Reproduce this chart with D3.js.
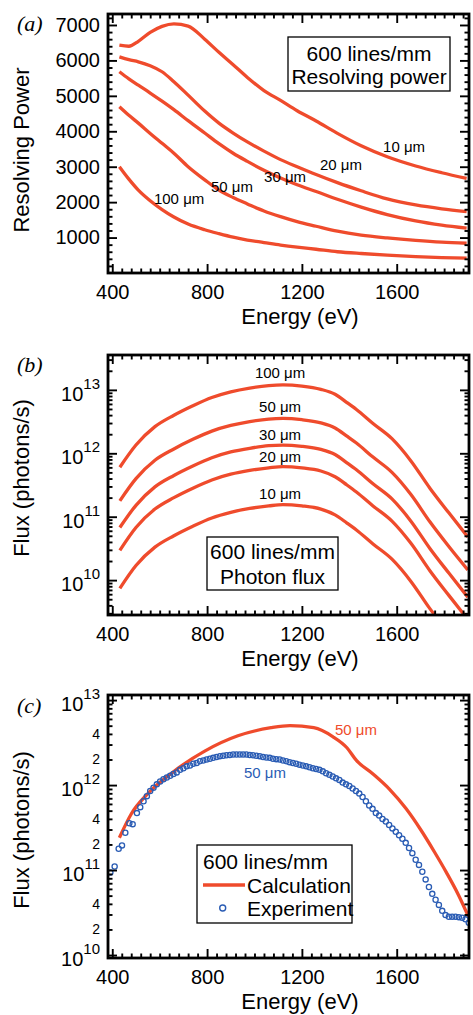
<!DOCTYPE html>
<html><head><meta charset="utf-8">
<script src="https://cdn.jsdelivr.net/npm/d3@7"></script>
<style>
body{margin:0;background:#fff}
svg text{font-family:"Liberation Sans",Arial,Helvetica,sans-serif;fill:#000}
</style>
</head><body><script>
// ---------- DATA ----------
const energyTicks = [400, 800, 1200, 1600];
const rpTicks = [1000, 2000, 3000, 4000, 5000, 6000, 7000];
const fluxDecadeExps = [10, 11, 12, 13];
const fluxSubLabels = [2e10, 4e10, 2e11, 4e11, 2e12, 4e12];

// (a) resolving power
const energyA = [430,470,510,560,610,660,720,790,850,910,970,1040,1110,1180,1260,1350,1450,1560,1680,1790,1895];
const rp10um  = [6430,6400,6540,6790,6960,7030,6970,6600,6230,5880,5520,5150,4870,4580,4290,3940,3590,3280,3020,2830,2670];
const rp20um  = [6100,6020,5960,5850,5680,5400,5020,4570,4230,3950,3700,3440,3200,3000,2780,2550,2320,2090,1920,1810,1730];
const rp30um  = [5680,5480,5300,5080,4850,4610,4300,3950,3650,3380,3150,2900,2680,2490,2300,2080,1860,1650,1470,1350,1265];
const rp50um  = [4690,4450,4230,3940,3660,3380,3000,2630,2340,2130,1950,1750,1590,1450,1320,1180,1070,990,920,870,840];
const rp100um = [3000,2650,2340,2040,1790,1580,1380,1220,1110,1010,930,860,790,730,670,600,550,505,465,435,418];

// (b) photon flux
const energyB = [432,500,580,660,740,820,900,980,1060,1120,1200,1280,1340,1390,1430,1500,1580,1660,1740,1820,1900];
const flux100um = [6.03e11,1.35e12,2.63e12,3.98e12,5.62e12,7.59e12,9.33e12,1.07e13,1.17e13,1.20e13,1.15e13,1.02e13,8.51e12,6.31e12,4.90e12,2.95e12,1.70e12,7.59e11,2.82e11,1.15e11,4.79e10];
const flux50um  = [1.78e11,3.98e11,7.76e11,1.17e12,1.66e12,2.24e12,2.75e12,3.16e12,3.47e12,3.55e12,3.39e12,3.02e12,2.51e12,1.86e12,1.45e12,8.71e11,5.01e11,2.24e11,8.32e10,3.39e10,1.45e10];
const flux30um  = [6.76e10,1.51e11,2.95e11,4.47e11,6.31e11,8.51e11,1.05e12,1.20e12,1.32e12,1.35e12,1.29e12,1.15e12,9.55e11,7.08e11,5.50e11,3.31e11,1.91e11,8.51e10,3.16e10,1.29e10,5.37e9];
const flux20um  = [2.95e10,6.76e10,1.32e11,2.00e11,2.82e11,3.80e11,4.68e11,5.37e11,5.89e11,6.17e11,5.89e11,5.25e11,4.27e11,3.16e11,2.45e11,1.48e11,8.51e10,3.80e10,1.41e10,5.75e9,2.40e9];
const flux10um  = [7.41e9,1.70e10,3.31e10,5.01e10,7.08e10,9.55e10,1.17e11,1.35e11,1.48e11,1.55e11,1.48e11,1.32e11,1.07e11,7.94e10,6.17e10,3.72e10,2.14e10,9.55e9,3.55e9,1.45e9,6.03e8];

// (c) calculation vs experiment, 50 um
const energyCalc = [430,480,550,650,790,930,1070,1150,1250,1330,1390,1430,1500,1570,1640,1700,1760,1810,1860,1903];
const fluxCalc   = [2.40e11,4.57e11,7.94e11,1.38e12,2.51e12,3.80e12,4.73e12,5.01e12,4.73e12,3.72e12,2.75e12,1.95e12,1.35e12,8.91e11,5.25e11,3.02e11,1.62e11,9.33e10,5.13e10,2.82e10];
const energyExp = [392,410,427,441,455,472,486,504,518,532,546,560,
  574,588,602,616,630,644,658,672,686,700,714,728,742,756,770,784,798,812,826,840,854,868,882,896,
  910,924,938,952,966,980,994,1008,1022,1036,1050,1064,1078,1092,1106,1120,1134,1148,1162,1176,1190,
  1204,1218,1232,1246,1260,1274,1288,1302,1316,1330,1344,1358,1372,1386,1400,1414,1428,1442,1456,1470,
  1484,1498,1512,1526,1540,1554,1568,1582,1596,1610,1624,1638,1652,1666,1680,1694,1708,1722,1736,1750,
  1764,1778,1792,1806,1820,1834,1848,1862,1876,1890,1904];
const fluxExp = [9.33e10,1.10e11,1.78e11,1.95e11,2.75e11,3.55e11,3.47e11,4.68e11,5.50e11,6.46e11,7.41e11,8.51e11,
  9.33e11,1.02e12,1.10e12,1.17e12,1.23e12,1.29e12,1.35e12,1.41e12,1.51e12,1.58e12,1.66e12,1.70e12,1.78e12,1.82e12,1.91e12,1.95e12,2.00e12,2.04e12,2.09e12,2.14e12,2.19e12,2.21e12,2.24e12,2.26e12,
  2.29e12,2.29e12,2.29e12,2.29e12,2.29e12,2.26e12,2.24e12,2.21e12,2.19e12,2.14e12,2.11e12,2.09e12,2.04e12,2.02e12,2.00e12,1.95e12,1.91e12,1.86e12,1.82e12,1.78e12,1.74e12,
  1.70e12,1.66e12,1.62e12,1.58e12,1.55e12,1.51e12,1.45e12,1.38e12,1.32e12,1.26e12,1.20e12,1.15e12,1.07e12,1.02e12,9.77e11,9.12e11,8.51e11,7.94e11,7.24e11,6.46e11,
  5.75e11,5.25e11,4.68e11,4.37e11,3.98e11,3.72e11,3.39e11,3.09e11,2.82e11,2.57e11,2.34e11,2.09e11,1.82e11,1.58e11,1.32e11,1.15e11,9.55e10,7.76e10,6.31e10,5.25e10,
  4.47e10,3.89e10,3.31e10,2.95e10,2.82e10,2.82e10,2.82e10,2.79e10,2.75e10,2.63e10,2.40e10];

// ---------- DRAWING ----------
const W = 473, H = 1015;
const RED = "#ef4b2c", BLUE = "#2a5cb4";
const svg = d3.select("body").append("svg").attr("width", W).attr("height", H).style("display", "block");

const x = d3.scaleLinear().domain([382, 1905]).range([108, 469]);
const yA = d3.scaleLinear().domain([0, 7310]).range([273, 14]);
const yB = d3.scaleLog().domain([Math.pow(10, 9.45), Math.pow(10, 13.55)]).range([615, 355]);
const yC = d3.scaleLog().domain([Math.pow(10, 9.965), Math.pow(10, 13.06)]).range([958, 695]);

const inDom = (s, v) => v >= Math.min(...s.domain()) && v <= Math.max(...s.domain());
const xMinor = d3.range(400, 1905, 40).filter(v => inDom(x, v) && !energyTicks.includes(v));
function logMinor(y) {
  const out = [];
  for (let e = 9; e <= 13; e++) for (let m = 2; m <= 9; m++) { const v = m * Math.pow(10, e); if (inDom(y, v)) out.push(v); }
  return out;
}
const decades = y => fluxDecadeExps.map(e => Math.pow(10, e)).filter(v => inDom(y, v));

function frame(g, y, yMajor, yMinor, fmt) {
  const [yb, yt] = y.range(), [xl, xr] = x.range();
  const clean = s => { s.select(".domain").remove(); s.selectAll(".tick line").attr("stroke", "#000").attr("stroke-width", 1.9); };
  const add = (axis, tx, ty) => g.append("g").attr("transform", `translate(${tx},${ty})`).call(axis).call(clean);
  const bt = add(d3.axisBottom(x).tickValues(energyTicks).tickSizeInner(-9).tickSizeOuter(0).tickPadding(12).tickFormat(d3.format("d")), 0, yb);
  bt.attr("font-size", 20).attr("font-family", null);
  add(d3.axisBottom(x).tickValues(xMinor).tickSizeInner(-4.5).tickSizeOuter(0).tickFormat(""), 0, yb);
  add(d3.axisTop(x).tickValues(energyTicks).tickSizeInner(-9).tickSizeOuter(0).tickFormat(""), 0, yt);
  add(d3.axisTop(x).tickValues(xMinor).tickSizeInner(-4.5).tickSizeOuter(0).tickFormat(""), 0, yt);
  const lt = add(d3.axisLeft(y).tickValues(yMajor).tickSizeInner(-9).tickSizeOuter(0).tickPadding(8).tickFormat(fmt || (() => "")), xl, 0);
  lt.attr("font-size", 20).attr("font-family", null);
  add(d3.axisLeft(y).tickValues(yMinor).tickSizeInner(-4.5).tickSizeOuter(0).tickFormat(""), xl, 0);
  add(d3.axisRight(y).tickValues(yMajor).tickSizeInner(-9).tickSizeOuter(0).tickFormat(""), xr, 0);
  add(d3.axisRight(y).tickValues(yMinor).tickSizeInner(-4.5).tickSizeOuter(0).tickFormat(""), xr, 0);
  g.append("rect").attr("x", xl).attr("y", yt).attr("width", xr - xl).attr("height", yb - yt)
    .attr("fill", "none").attr("stroke", "#000").attr("stroke-width", 2.8);
}
function clip(id, y) {
  const [yb, yt] = y.range(), [xl, xr] = x.range();
  svg.append("clipPath").attr("id", id).append("rect").attr("x", xl).attr("y", yt).attr("width", xr - xl).attr("height", yb - yt);
  return svg.append("g").attr("clip-path", `url(#${id})`);
}
function logLabels(g, y) {
  decades(y).forEach(v => {
    const t = g.append("text").attr("x", 100).attr("y", y(v) + 11).attr("text-anchor", "end").attr("font-size", 20);
    t.append("tspan").text("10");
    t.append("tspan").attr("font-size", 15).attr("dy", -12).text(Math.round(Math.log10(v)));
  });
}
function axisTitles(yTitle, yCenter, xBaseline, panelLabel, panelBaseline) {
  svg.append("text").attr("transform", `translate(29,${yCenter}) rotate(-90)`).attr("text-anchor", "middle")
    .attr("font-size", 22).text(yTitle);
  svg.append("text").attr("x", 300).attr("y", xBaseline).attr("text-anchor", "middle").attr("font-size", 22).text("Energy (eV)");
  svg.append("text").attr("x", 17).attr("y", panelBaseline).attr("font-size", 22)
    .style("font-family", "'Liberation Serif','Times New Roman',serif").style("font-style", "italic").text(panelLabel);
}
const label = (txt, px, py, color) => svg.append("text").attr("x", px).attr("y", py).attr("dy", "0.35em")
  .attr("text-anchor", "middle").attr("font-size", 15).style("fill", color || "#000").text(txt);
function box(x0, y0, x1, y1) {
  svg.append("rect").attr("x", x0).attr("y", y0).attr("width", x1 - x0).attr("height", y1 - y0)
    .attr("fill", "#fff").attr("stroke", "#000").attr("stroke-width", 1.3);
}

// ----- panel (a)
{
  const g = clip("clipA", yA);
  const line = d3.line().x(d => x(d[0])).y(d => yA(d[1])).curve(d3.curveMonotoneX);
  [rp10um, rp20um, rp30um, rp50um, rp100um].forEach(s =>
    g.append("path").attr("d", line(d3.zip(energyA, s))).attr("fill", "none").attr("stroke", RED).attr("stroke-width", 3.3));
  const fg = svg.append("g");
  frame(fg, yA, rpTicks, d3.range(200, 7310, 200).filter(v => !rpTicks.includes(v)), d3.format("d"));
  axisTitles("Resolving Power", 150, 324, "(a)", 31);
  label("10 μm", x(1631), yA(3556));
  label("20 μm", x(1365), yA(3048));
  label("30 μm", x(1129), yA(2709));
  label("50 μm", x(905), yA(2427));
  label("100 μm", x(682), yA(2088));
  box(288, 37, 450, 91);
  svg.append("text").attr("x", 369).attr("y", 61).attr("text-anchor", "middle").attr("font-size", 21).text("600 lines/mm");
  svg.append("text").attr("x", 369).attr("y", 84).attr("text-anchor", "middle").attr("font-size", 21).text("Resolving power");
}

// ----- panel (b)
{
  const g = clip("clipB", yB);
  const line = d3.line().x(d => x(d[0])).y(d => yB(d[1])).curve(d3.curveMonotoneX);
  [flux100um, flux50um, flux30um, flux20um, flux10um].forEach(s =>
    g.append("path").attr("d", line(d3.zip(energyB, s))).attr("fill", "none").attr("stroke", RED).attr("stroke-width", 3.3));
  const fg = svg.append("g");
  frame(fg, yB, decades(yB), logMinor(yB));
  logLabels(fg, yB);
  axisTitles("Flux (photons/s)", 478, 666, "(b)", 372);
  label("100 μm", x(1108), yB(1.85e13));
  label("50 μm", x(1108), yB(5.4e12));
  label("30 μm", x(1108), yB(1.95e12));
  label("20 μm", x(1108), yB(8.7e11));
  label("10 μm", x(1108), yB(2.28e11));
  box(207, 537, 338, 590);
  svg.append("text").attr("x", 272.5).attr("y", 559).attr("text-anchor", "middle").attr("font-size", 21).text("600 lines/mm");
  svg.append("text").attr("x", 272.5).attr("y", 584).attr("text-anchor", "middle").attr("font-size", 21).text("Photon flux");
}

// ----- panel (c)
{
  const g = clip("clipC", yC);
  const line = d3.line().x(d => x(d[0])).y(d => yC(d[1])).curve(d3.curveMonotoneX);
  g.append("path").attr("d", line(d3.zip(energyCalc, fluxCalc))).attr("fill", "none").attr("stroke", RED).attr("stroke-width", 3.3);
  g.selectAll("circle.exp").data(d3.zip(energyExp, fluxExp)).join("circle").attr("class", "exp")
    .attr("cx", d => x(d[0])).attr("cy", d => yC(d[1])).attr("r", 2.6)
    .attr("fill", "none").attr("stroke", BLUE).attr("stroke-width", 1.3);
  const fg = svg.append("g");
  frame(fg, yC, decades(yC), logMinor(yC));
  logLabels(fg, yC);
  fluxSubLabels.forEach(v => fg.append("text").attr("x", 100).attr("y", yC(v)).attr("dy", "0.35em")
    .attr("text-anchor", "end").attr("font-size", 14).text(String(Math.round(v / Math.pow(10, Math.floor(Math.log10(v)))))));
  axisTitles("Flux (photons/s)", 830, 1009, "(c)", 713);
  label("50 μm", x(1428), yC(4.45e12), RED);
  label("50 μm", x(1044), yC(1.39e12), BLUE);
  box(197, 845, 352, 923);
  svg.append("text").attr("x", 203).attr("y", 869).attr("font-size", 21).text("600 lines/mm");
  svg.append("line").attr("x1", 203).attr("x2", 245).attr("y1", 885).attr("y2", 885).attr("stroke", RED).attr("stroke-width", 3.5);
  svg.append("text").attr("x", 247).attr("y", 892.5).attr("font-size", 21).text("Calculation");
  svg.append("circle").attr("cx", 222.7).attr("cy", 908).attr("r", 3).attr("fill", "none").attr("stroke", BLUE).attr("stroke-width", 1.4);
  svg.append("text").attr("x", 247).attr("y", 915.5).attr("font-size", 21).text("Experiment");
}
</script></body></html>
